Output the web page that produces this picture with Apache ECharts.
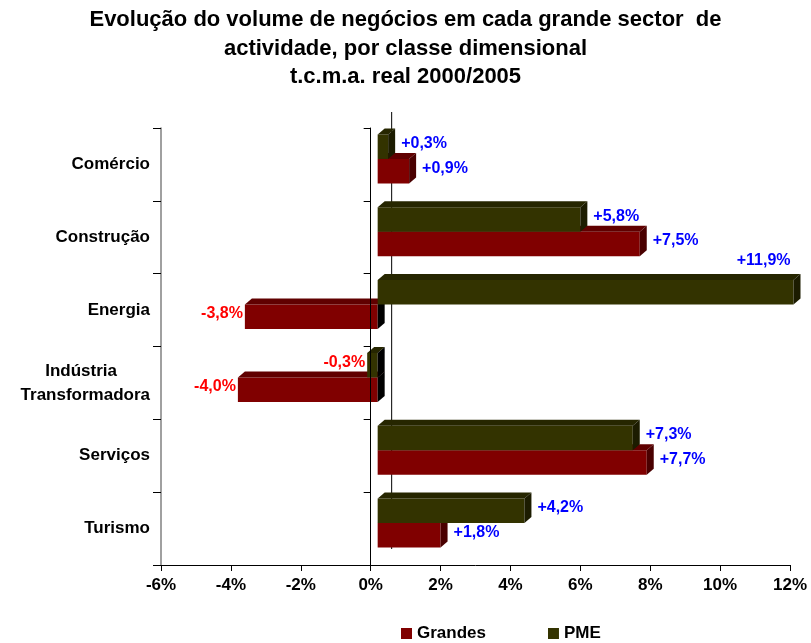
<!DOCTYPE html>
<html>
<head>
<meta charset="utf-8">
<script src="https://cdn.jsdelivr.net/npm/echarts@6/dist/echarts.min.js"></script>
<style>
  html, body { margin: 0; padding: 0; background: #fff; }
  #grafico { width: 811px; height: 643px; }
</style>
</head>
<body>
<div id="grafico"></div>
<script>
  // dados (t.c.m.a. real 2000/2005, %)
  var categorias = ['Comércio', 'Construção', 'Energia', 'Indústria       \nTransformadora', 'Serviços', 'Turismo'];
  var grandes = [0.9, 7.5, -3.8, -4.0, 7.7, 1.8];
  var pme = [0.3, 5.8, 11.9, -0.3, 7.3, 4.2];
  var series = ['Grandes', 'PME'];

  var fonte = 'Liberation Sans, Arial, sans-serif';

  // efeito 3D das barras
  var DX = 7, DY = -6;          // profundidade
  var DESL_X = 7, DESL_Y = -5.5; // deslocamento da face frontal

  function fmt(v) {
    return (v > 0 ? '+' : '') + v.toFixed(1).replace('.', ',') + '%';
  }

  function barra3d(cor, topo, lado, lugar) {
    return function (params, api) {
      var v = api.value(0), i = api.value(1);
      var p0 = api.coord([0, i]);
      var p1 = api.coord([v, i]);
      var banda = api.size([0, 1])[1];
      var h = banda * 0.336;
      var yTop = (lugar < 0 ? p0[1] - h : p0[1]) + DESL_Y;
      var yBot = yTop + h;
      var xa = Math.min(p0[0], p1[0]) + DESL_X;
      var xb = Math.max(p0[0], p1[0]) + DESL_X;

      var filhos = [
        { type: 'rect', shape: { x: xa, y: yTop, width: xb - xa, height: h }, style: { fill: cor } },
        { type: 'polygon', shape: { points: [[xa, yTop], [xa + DX, yTop + DY], [xb + DX, yTop + DY], [xb, yTop]] },
          style: { fill: topo } },
        { type: 'polygon', shape: { points: [[xb, yTop], [xb + DX, yTop + DY], [xb + DX, yBot + DY], [xb, yBot]] },
          style: { fill: v < 0 ? '#000' : lado } }
      ];

      var yc = (yTop + yBot) / 2 - 3;
      var txt = { text: fmt(v), font: 'bold 16px ' + fonte, fill: v < 0 ? '#ff0000' : '#0000ff' };
      if (v < 0) {
        txt.x = xa - 2; txt.y = yc; txt.align = 'right'; txt.verticalAlign = 'middle';
      } else if (p1[0] + 60 > api.getWidth()) {
        txt.x = xb - 3; txt.y = yTop + DY - 6; txt.align = 'right'; txt.verticalAlign = 'bottom';
      } else {
        txt.x = xb + DX + 6; txt.y = yc; txt.align = 'left'; txt.verticalAlign = 'middle';
      }
      filhos.push({ type: 'text', style: txt });
      return { type: 'group', children: filhos };
    };
  }

  var grafico = echarts.init(document.getElementById('grafico'));

  var option = {
    animation: false,
    textStyle: { fontFamily: fonte },
    title: {
      text: 'Evolução do volume de negócios em cada grande sector  de\nactividade, por classe dimensional\nt.c.m.a. real 2000/2005',
      left: 'center',
      top: 1,
      textStyle: { fontSize: 22, fontWeight: 'bold', color: '#000', lineHeight: 28.5, fontFamily: fonte }
    },
    legend: {
      data: series,
      left: 396,
      top: 620,
      icon: 'rect',
      itemWidth: 11,
      itemHeight: 11,
      itemGap: 62,
      textStyle: { fontSize: 17, fontWeight: 'bold', color: '#000', fontFamily: fonte }
    },
    grid: { left: 161, right: 21, top: 128, bottom: 78 },
    xAxis: {
      type: 'value',
      min: -6,
      max: 12,
      interval: 2,
      axisLine: { show: true, onZero: false, lineStyle: { color: '#000' } },
      axisTick: { show: true, length: 6, lineStyle: { color: '#000' } },
      splitLine: { show: false },
      axisLabel: { formatter: '{value}%', fontSize: 17, fontWeight: 'bold', color: '#000', margin: 12 }
    },
    yAxis: [{
      type: 'category',
      data: categorias,
      inverse: true,
      position: 'left',
      axisLine: { show: true, onZero: false, lineStyle: { color: '#808080', width: 1.5 } },
      axisTick: { show: true, length: 8, lineStyle: { color: '#000' } },
      axisLabel: { fontSize: 17, fontWeight: 'bold', color: '#000', margin: 11, lineHeight: 24 }
    }, {
      type: 'category',
      data: categorias,
      inverse: true,
      position: 'left',
      z: 10,
      axisLine: { show: true, onZero: true, lineStyle: { color: '#000' } },
      axisTick: { show: true, length: 7, lineStyle: { color: '#000' } },
      axisLabel: { show: false }
    }],
    series: [{
      // linha do zero na parede do fundo
      type: 'custom',
      data: [[0, 0]],
      encode: { x: 0, y: 1 },
      silent: true,
      renderItem: function (params, api) {
        var p = api.coord([0, 0]);
        var topo = params.coordSys.y, base = params.coordSys.y + params.coordSys.height;
        return {
          type: 'line',
          shape: { x1: p[0] + 3 * DX, y1: topo - 16, x2: p[0] + 3 * DX, y2: base - 16 },
          style: { stroke: '#000', lineWidth: 1 }
        };
      }
    }, {
      name: 'Grandes',
      type: 'custom',
      itemStyle: { color: '#800000' },
      data: grandes.map(function (v, i) { return [v, i]; }),
      encode: { x: 0, y: 1 },
      renderItem: barra3d('#800000', '#600000', '#4a0000', 1)
    }, {
      name: 'PME',
      type: 'custom',
      itemStyle: { color: '#333300' },
      data: pme.map(function (v, i) { return [v, i]; }),
      encode: { x: 0, y: 1 },
      renderItem: barra3d('#333300', '#262600', '#1c1c00', -1)
    }]
  };

  grafico.setOption(option);
</script>
</body>
</html>
